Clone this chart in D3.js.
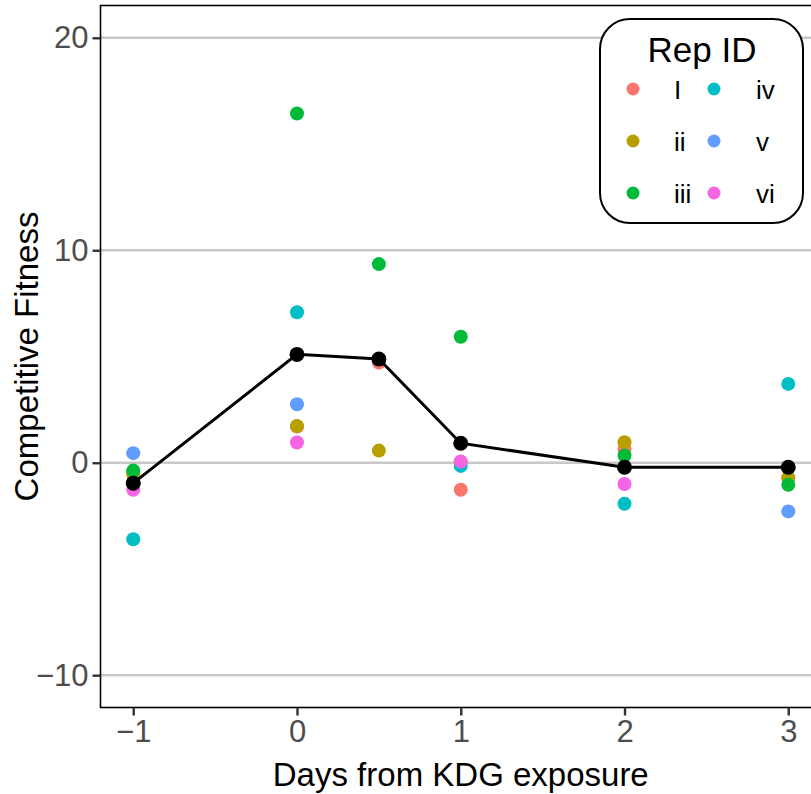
<!DOCTYPE html>
<html>
<head>
<meta charset="utf-8">
<script src="https://cdn.jsdelivr.net/npm/d3@7"></script>
<style>
  html, body { margin: 0; padding: 0; background: #fff; }
  svg { display: block; font-family: "Liberation Sans", Arial, sans-serif; }
</style>
</head>
<body>
<svg id="chart" width="811" height="794"></svg>
<script>
// ---------- data ----------
const days = [-1, 0, 0.5, 1, 2, 3];
const reps = ["I", "ii", "iii", "iv", "v", "vi"];
const repColors = ["#F8766D", "#B79F00", "#00BA38", "#00BFC4", "#619CFF", "#F564E3"];
// values per rep, aligned to days (null = no observation)
const repI   = [-0.45, 1.70, 4.71, -1.27, 0.64, -0.70];
const repII  = [-0.57, 1.73, 0.57, 0.03, 0.97, -0.72];
const repIII = [-0.37, 16.44, 9.35, 5.93, 0.34, -1.04];
const repIV  = [-3.60, 7.08, null, -0.15, -1.93, 3.71];
const repV   = [0.45, 2.75, null, null, null, -2.29];
const repVI  = [-1.27, 0.95, null, 0.06, -1.00, null];
const meanFitness = [-0.96, 5.10, 4.88, 0.92, -0.21, -0.21];
const xTicks = [-1, 0, 1, 2, 3];
const yTicks = [-10, 0, 10, 20];

const repSeries = [repI, repII, repIII, repIV, repV, repVI];

// ---------- layout ----------
const svg = d3.select("#chart");
const panel = { left: 100.5, top: 5.5, right: 821, bottom: 707.5 };

const x = d3.scaleLinear().domain([-1.2, 3.2]).range([panel.left, panel.right]);
const y = d3.scaleLinear().domain([-11.52, 21.52]).range([panel.bottom, panel.top]);

// gridlines
svg.append("g")
  .selectAll("line").data(yTicks).join("line")
  .attr("x1", panel.left).attr("x2", panel.right)
  .attr("y1", d => y(d)).attr("y2", d => y(d))
  .attr("stroke", "#C8C8C8").attr("stroke-width", 2.6);

// points
const pts = [];
repSeries.forEach((vals, ri) => {
  vals.forEach((v, di) => { if (v !== null) pts.push({ day: days[di], v, rep: ri }); });
});
svg.append("g").selectAll("circle").data(pts).join("circle")
  .attr("cx", d => x(d.day)).attr("cy", d => y(d.v))
  .attr("r", 7).attr("fill", d => repColors[d.rep]);

// mean line + points
const meanData = days.map((d, i) => ({ day: d, v: meanFitness[i] }));
svg.append("path").datum(meanData)
  .attr("d", d3.line().x(d => x(d.day)).y(d => y(d.v)))
  .attr("fill", "none").attr("stroke", "#000").attr("stroke-width", 3);
svg.append("g").selectAll("circle").data(meanData).join("circle")
  .attr("cx", d => x(d.day)).attr("cy", d => y(d.v))
  .attr("r", 7.5).attr("fill", "#000");

// panel border
svg.append("rect")
  .attr("x", panel.left).attr("y", panel.top)
  .attr("width", panel.right - panel.left).attr("height", panel.bottom - panel.top)
  .attr("fill", "none").attr("stroke", "#000").attr("stroke-width", 1.6);

// axes
const yAxis = svg.append("g").attr("transform", `translate(${panel.left},0)`)
  .call(d3.axisLeft(y).tickValues(yTicks).tickSize(8).tickPadding(4)
    .tickFormat(d => d < 0 ? "\u2212" + Math.abs(d) : d));
yAxis.select(".domain").remove();
yAxis.selectAll(".tick line").attr("stroke", "#333").attr("stroke-width", 2.4);
yAxis.selectAll(".tick text").attr("fill", "#4D4D4D").attr("font-size", 31)
  .attr("font-family", "Liberation Sans, Arial, sans-serif");

const xAxis = svg.append("g").attr("transform", `translate(0,${panel.bottom})`)
  .call(d3.axisBottom(x).tickValues(xTicks).tickSize(8).tickPadding(4)
    .tickFormat(d => d < 0 ? "\u2212" + Math.abs(d) : d));
xAxis.select(".domain").remove();
xAxis.selectAll(".tick line").attr("stroke", "#333").attr("stroke-width", 2.4);
xAxis.selectAll(".tick text").attr("fill", "#4D4D4D").attr("font-size", 31)
  .attr("font-family", "Liberation Sans, Arial, sans-serif");

// axis titles
svg.append("text")
  .attr("x", (panel.left + panel.right) / 2).attr("y", 786)
  .attr("text-anchor", "middle").attr("font-size", 33).attr("fill", "#000")
  .text("Days from KDG exposure");
svg.append("text")
  .attr("transform", `translate(38,${(panel.top + panel.bottom) / 2}) rotate(-90)`)
  .attr("text-anchor", "middle").attr("font-size", 33).attr("fill", "#000")
  .text("Competitive Fitness");

// legend
const lg = svg.append("g");
lg.append("rect")
  .attr("x", 600).attr("y", 19).attr("width", 203).attr("height", 204)
  .attr("rx", 30).attr("ry", 30)
  .attr("fill", "#fff").attr("stroke", "#000").attr("stroke-width", 2);
lg.append("text").attr("x", 702).attr("y", 62)
  .attr("text-anchor", "middle").attr("font-size", 35).attr("fill", "#000")
  .text("Rep ID");
const colDot = [633, 714], colLab = [674, 756], rowY = [89, 141, 193];
reps.forEach((r, i) => {
  const c = Math.floor(i / 3), rr = i % 3;
  lg.append("circle").attr("cx", colDot[c]).attr("cy", rowY[rr]).attr("r", 6.5)
    .attr("fill", repColors[i]);
  lg.append("text").attr("x", colLab[c]).attr("y", rowY[rr] + 9.5)
    .attr("font-size", 26).attr("fill", "#000").text(r);
});
</script>
</body>
</html>
